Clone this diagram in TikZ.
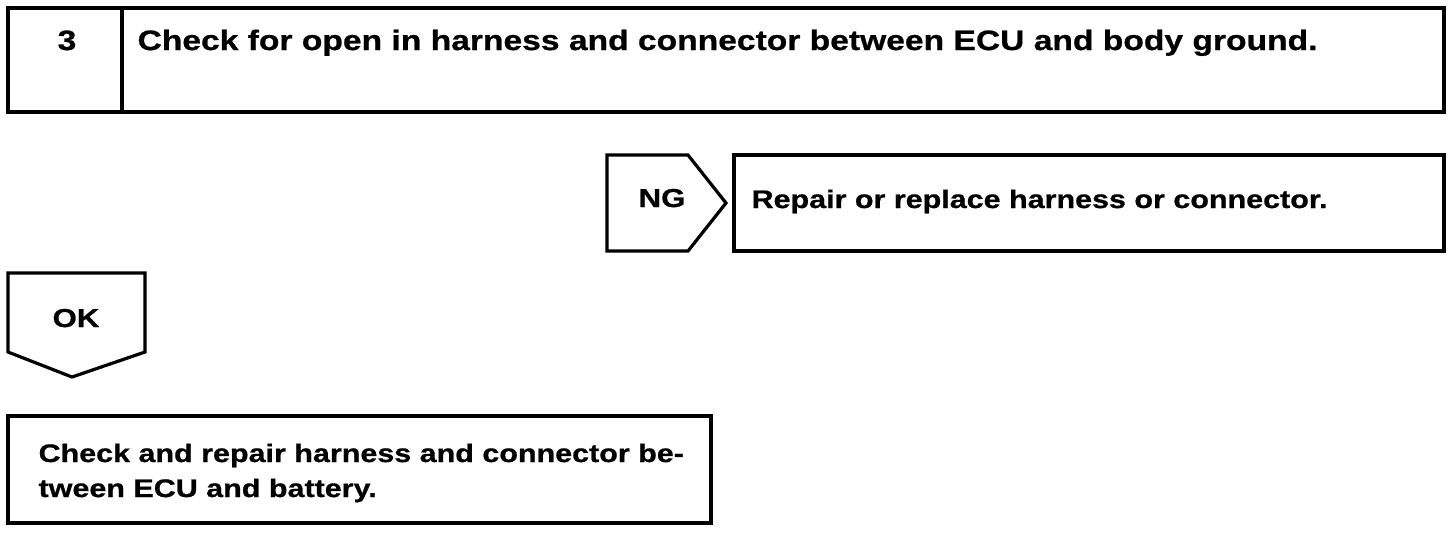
\documentclass[tikz,border=0pt]{standalone}
\usepackage{fontspec}
\setmainfont{Liberation Sans}[FakeStretch=1.2, BoldFeatures={FakeBold=0.8}]
\begin{document}
\begin{tikzpicture}[x=0.5pt, y=-0.5pt, line width=1.6pt, line join=miter,
  lbl/.style={font=\bfseries\fontsize{14}{16}\selectfont, inner sep=0pt},
  tag/.style={lbl, font=\bfseries\fontsize{13}{15}\selectfont},
  note/.style={lbl, align=left, font=\bfseries\fontsize{12.7}{17.5}\selectfont}]
\useasboundingbox (0,0) rectangle (1456,532);

% step 3
\draw (8,8) rectangle (1444,112);
\draw (122,8) -- (122,112);
\node[lbl, anchor=base] (num) at (67,50) {3};
\node[lbl, anchor=base west] (title) at (136,50) {Check for open in harness and connector between ECU and body ground.};

% NG branch
\draw (607,155) -- (688,155) -- (726,203) -- (688,251) -- (607,251) -- cycle;
\node[tag, anchor=base] (ng) at (662,207) {NG};
\draw (734,155) rectangle (1444,251);
\node[note, anchor=base west] (repair) at (750,208) {Repair or replace harness or connector.};

% OK branch
\draw (8,273) -- (145,273) -- (145,352) -- (72,377) -- (8,352) -- cycle;
\node[tag, anchor=base] (ok) at (76,327) {OK};

\draw (8,416) rectangle (711,523);
\node[note, anchor=north west] (fix) at (37,442) {Check and repair harness and connector be-\\tween ECU and battery.};
\end{tikzpicture}
\end{document}
